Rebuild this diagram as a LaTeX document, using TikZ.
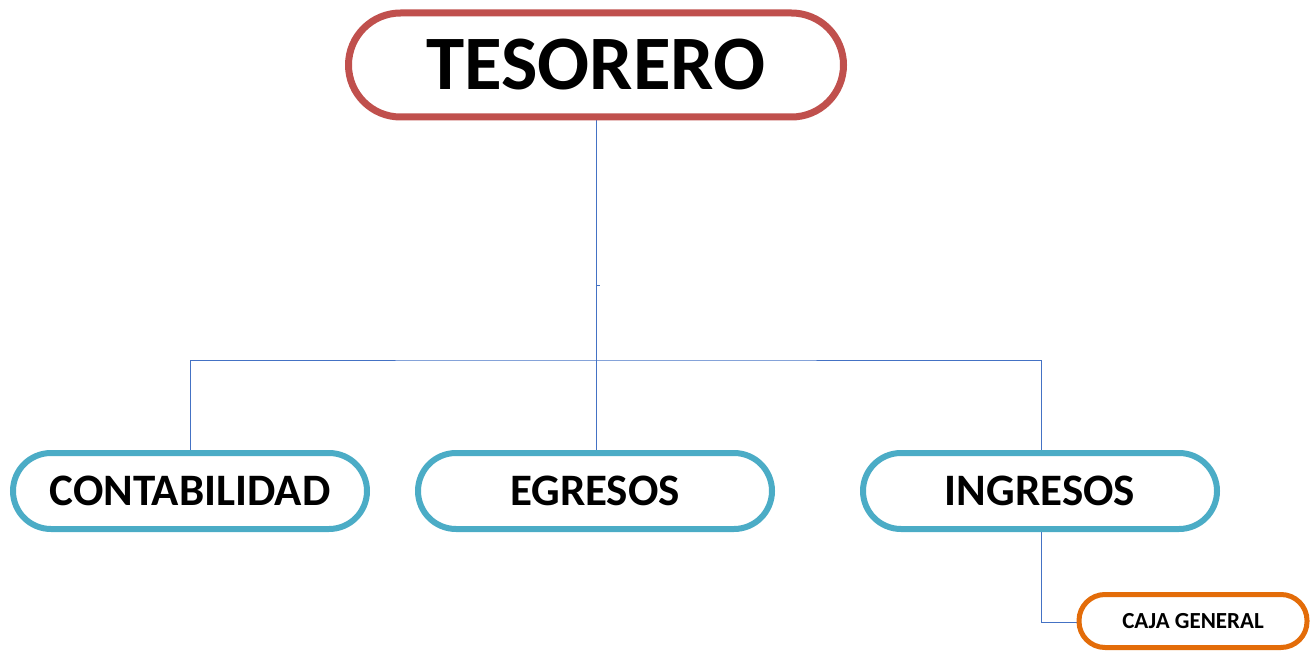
\documentclass[tikz,border=0pt]{standalone}
\usepackage{fontspec}
\setmainfont{Carlito}
\definecolor{cred}{HTML}{C0504D}
\definecolor{cblue}{HTML}{4BACC6}
\definecolor{corange}{HTML}{E36C09}
\definecolor{cline}{HTML}{4472C4}
\begin{document}
\begin{tikzpicture}[x=1pt,y=1pt,
  top/.style={draw=cred,line width=7pt,rounded corners=52pt,minimum width=495pt,minimum height=104pt,inner sep=0pt,font=\fontsize{77}{80}\selectfont\bfseries,fill=white},
  mid/.style={draw=cblue,line width=6pt,rounded corners=38pt,minimum width=354pt,minimum height=76pt,inner sep=0pt,font=\fontsize{45}{47}\selectfont\bfseries,fill=white},
  low/.style={draw=corange,line width=5pt,rounded corners=26pt,minimum width=228pt,minimum height=53pt,inner sep=0pt,font=\fontsize{23}{25}\selectfont\bfseries,fill=white},
  conn/.style={draw=cline,line width=0.8pt}]
\useasboundingbox (0,0) rectangle (1316,-652);
\coordinate (bar) at (596,-360);
\coordinate (tk1) at (596,-285);
\coordinate (tk2) at (600,-285);
\draw[conn] (596,-117) -- (596,-453);
\draw[conn] (190,-453) |- (bar) -| (1041,-453);
\draw[conn] (tk1) -- (tk2);
\draw[conn] (1041,-529) |- (1080,-622);
\node[top] (tes) at (596,-65) {TESORERO};
\node[mid] (con) at (190,-491) {CONTABILIDAD};
\node[mid] (egr) at (595,-491) {EGRESOS};
\node[mid] (ing) at (1040,-491) {INGRESOS};
\node[low] (caja) at (1193,-621) {CAJA GENERAL};
\end{tikzpicture}
\end{document}
